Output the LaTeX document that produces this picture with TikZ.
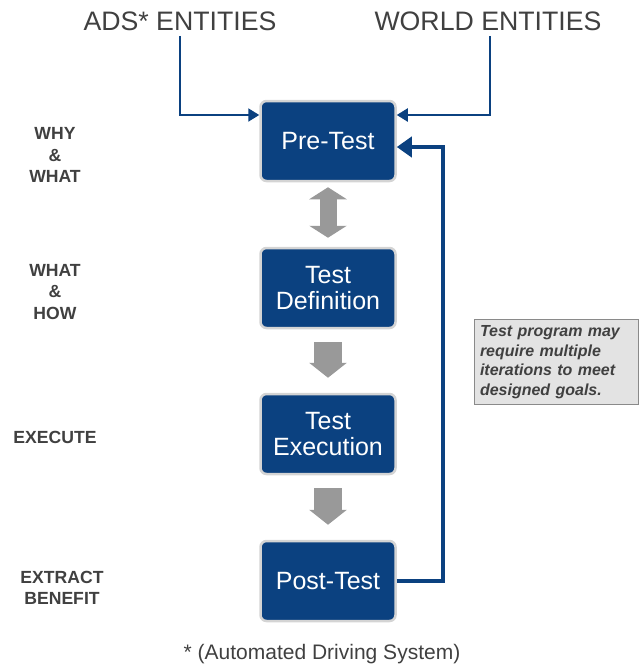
\documentclass[tikz,border=0pt]{standalone}
\usepackage{fontspec}
\setmainfont{Liberation Sans}
\usetikzlibrary{arrows.meta}

\begin{document}
\begin{tikzpicture}[x=1pt, y=-1pt,
		stage/.style={draw=stageedge, line width=2.5pt, fill=stageblue, rounded corners=6pt, text=white, minimum width=135pt, minimum height=80pt, align=center, font=\fontsize{25}{25.5}\selectfont},
		phase/.style={text=labelgray, align=center, font=\bfseries\fontsize{17.6}{21.5}\selectfont},
		entity/.style={text=labelgray, font=\fontsize{26.7}{30}\selectfont},
		flowdown/.style={draw=arrowgray, line width=28pt, -{Triangle[length=15pt,width=37pt]}},
		flowboth/.style={draw=arrowgray, line width=17pt, {Triangle[length=12pt,width=37pt]}-{Triangle[length=12pt,width=37pt]}},
		inlink/.style={draw=stageblue, line width=2pt, -{Triangle[length=11pt,width=13pt]}},
		looplink/.style={draw=stageblue, line width=4.5pt, -{Triangle[length=15pt,width=20pt]}}]
			% Define colors
			\definecolor{stageblue}{HTML}{0B4180}   % dark navy
			\definecolor{stageedge}{HTML}{D4D4D4}   % light gray rim
			\definecolor{arrowgray}{HTML}{999999}
			\definecolor{labelgray}{HTML}{404040}
			\definecolor{notefill}{HTML}{E3E3E3}
			\definecolor{noteedge}{HTML}{8A8A8A}
			
			\useasboundingbox (0,0) rectangle (640,667);
			
			% Top entities
			\node[entity] (ads) at (180,21) {ADS* ENTITIES};
			\node[entity] (world) at (488,21) {WORLD ENTITIES};
			
			% Stage boxes
			\node[stage] (pretest) at (328,141) {Pre-Test};
			\node[stage] (testdef) at (328,288) {Test\\Definition};
			\node[stage] (testexec) at (328,434) {Test\\Execution};
			\node[stage] (posttest) at (328,581) {Post-Test};
			
			% Phase labels
			\node[phase] (whywhat) at (55,155) {WHY\\\&\\WHAT};
			\node[phase] (whathow) at (55,292) {WHAT\\\&\\HOW};
			\node[phase] (execute) at (55,437) {EXECUTE};
			\node[phase] (extract) at (62,588) {EXTRACT\\BENEFIT};
			
			% Gray flow arrows
			\draw[flowboth, shorten <=5pt, shorten >=9pt] (pretest.south) -- (testdef.north);
			\draw[flowdown, shorten <=13pt, shorten >=15pt] (testdef.south) -- (testexec.north);
			\draw[flowdown, shorten <=13pt, shorten >=15pt] (testexec.south) -- (posttest.north);
			
			% Entity inputs
			\draw[inlink] ([yshift=-2pt]ads.south) |- ([yshift=26pt]pretest.west);
			\draw[inlink] ([xshift=2pt,yshift=-2pt]world.south) |- ([yshift=26pt]pretest.east);
			
			% Feedback loop
			\draw[looplink] (posttest.east) -- ++(46,0) |- ([yshift=-6pt]pretest.east);
			
			% Note
			\node[draw=noteedge, fill=notefill, line width=1pt, text=labelgray, text width=152pt, align=left, inner sep=6pt, font=\bfseries\itshape\fontsize{16}{19.5}\selectfont] (note) at (556,362) {Test program may\\require multiple\\iterations to meet\\designed goals.};
			
			% Footnote
			\node[text=labelgray, font=\fontsize{21}{24}\selectfont] (foot) at (322,654) {* (Automated Driving System)};
		\end{tikzpicture}
\end{document}
